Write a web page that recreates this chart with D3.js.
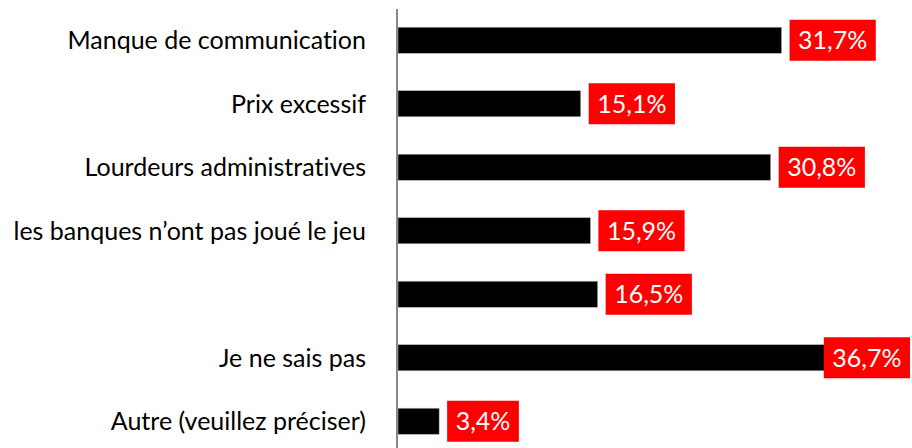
<!DOCTYPE html>
<html>
<head>
<meta charset="utf-8">
<script src="https://cdn.jsdelivr.net/npm/d3@7/dist/d3.min.js"></script>
<style>
  html, body { margin: 0; padding: 0; background: #fff; }
  svg { display: block; }
  .cat { font-family: Lato, "Open Sans", sans-serif; font-size: 25px; fill: #000; font-variant-ligatures: none; }
  .val { font-family: Lato, "Open Sans", sans-serif; font-size: 25px; fill: #fff; }
</style>
</head>
<body>
<div id="chart"></div>
<script>
const categories = [
  "Manque de communication",
  "Prix excessif",
  "Lourdeurs administratives",
  "les banques n\u2019ont pas jou\u00e9 le jeu",
  "",
  "Je ne sais pas",
  "Autre (veuillez pr\u00e9ciser)"
];
const values = [31.7, 15.1, 30.8, 15.9, 16.5, 36.7, 3.4];
const valueLabels = ["31,7%", "15,1%", "30,8%", "15,9%", "16,5%", "36,7%", "3,4%"];

const width = 912, height = 448;
const svg = d3.select("#chart").append("svg").attr("width", width).attr("height", height);

const x = d3.scaleLinear().domain([0, 40]).range([398, 882]);
const y = d3.scaleBand().domain(d3.range(categories.length)).range([8.5, 453]).paddingInner(0.59).paddingOuter(0.295);

const rows = categories.map((c, i) => ({ cat: c, value: values[i], label: valueLabels[i], i }));

svg.append("g").selectAll("rect").data(rows).join("rect")
  .attr("x", x(0))
  .attr("y", (d) => y(d.i))
  .attr("width", (d) => x(d.value) - x(0))
  .attr("height", y.bandwidth())
  .attr("fill", "#000")
  .attr("stroke", "#aaa")
  .attr("stroke-width", 0.6);

svg.append("line")
  .attr("x1", 397).attr("x2", 397)
  .attr("y1", 9).attr("y2", height)
  .attr("stroke", "#888").attr("stroke-width", 2);

svg.append("g").selectAll("text").data(rows).join("text")
  .attr("class", "cat")
  .attr("x", 366)
  .attr("y", (d) => y(d.i) + y.bandwidth() / 2)
  .attr("dy", "0.35em")
  .attr("text-anchor", "end")
  .text((d) => d.cat);

const labels = svg.append("g").selectAll("g").data(rows).join("g");
labels.append("rect").attr("fill", "#ff0000");
labels.append("text").attr("class", "val")
  .attr("dy", "0.35em")
  .attr("text-anchor", "middle")
  .text((d) => d.label);
labels.each(function (d) {
  const g = d3.select(this);
  const tw = g.select("text").node().getComputedTextLength();
  const bw = tw + 17, bh = 41;
  const cy = y(d.i) + y.bandwidth() / 2;
  const bx = Math.min(x(d.value) + 8, 910 - bw);
  g.select("rect").attr("x", bx).attr("y", cy - bh / 2).attr("width", bw).attr("height", bh);
  g.select("text").attr("x", bx + bw / 2).attr("y", cy);
});
</script>
</body>
</html>
